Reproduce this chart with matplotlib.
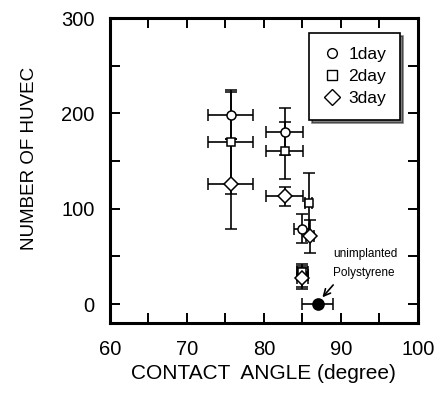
import matplotlib
matplotlib.use("Agg")
import matplotlib.pyplot as plt
from matplotlib.lines import Line2D
from matplotlib.ticker import MultipleLocator

plt.rcParams['font.family'] = ['Liberation Sans', 'DejaVu Sans']

# contact angle (degree) and number of HUVEC
x_1day = [75.7, 82.7, 84.9, 85.0]
y_1day = [198, 181, 79, 30]
xerr_1day = [2.9, 2.4, 1.0, 0.7]
yerr_1day = [25, 25, 15, 12]

x_2day = [75.7, 82.7, 85.8, 85.0]
y_2day = [170, 161, 106, 34]
xerr_2day = [2.9, 2.4, 0.5, 0.7]
yerr_2day = [55, 30, 32, 6]

x_3day = [75.7, 82.7, 86.0, 85.0]
y_3day = [126, 113, 71, 27]
xerr_3day = [2.9, 2.4, 0.5, 0.7]
yerr_3day = [47, 10, 17, 11]

# unimplanted polystyrene
x_ps = [87.0]
y_ps = [0]
xerr_ps = [2.0]

fig = plt.figure(figsize=(4.38, 3.94), dpi=100)
ax = fig.add_axes([0.251, 0.180, 0.703, 0.774])

ekw = dict(ecolor='black', elinewidth=1.2, capsize=4, capthick=1.2,
           linestyle='none', markeredgecolor='black', markeredgewidth=1.1,
           markerfacecolor='white')
ax.errorbar(x_1day, y_1day, xerr=xerr_1day, yerr=yerr_1day, marker='o', markersize=6.5, **ekw)
ax.errorbar(x_2day, y_2day, xerr=xerr_2day, yerr=yerr_2day, marker='s', markersize=6, **ekw)
ax.errorbar(x_3day, y_3day, xerr=xerr_3day, yerr=yerr_3day, marker='D', markersize=7, **ekw)
ekw['markerfacecolor'] = 'black'
ax.errorbar(x_ps, y_ps, xerr=xerr_ps, marker='o', markersize=8, **ekw)

ax.text(89.0, 52, 'unimplanted', fontsize=8.5, ha='left', va='center')
ax.text(89.0, 33, 'Polystyrene', fontsize=8.5, ha='left', va='center')
ax.annotate('', xy=(87.6, 7), xytext=(89.0, 20),
            arrowprops=dict(arrowstyle='->', color='black', lw=1.2,
                            shrinkA=0, shrinkB=0, mutation_scale=12))

ax.set_xlim(60, 100)
ax.set_ylim(-20, 300)
ax.xaxis.set_major_locator(MultipleLocator(10))
ax.xaxis.set_minor_locator(MultipleLocator(5))
ax.yaxis.set_major_locator(MultipleLocator(100))
ax.yaxis.set_minor_locator(MultipleLocator(50))
ax.tick_params(which='both', direction='in', top=True, right=True,
               width=1.4, length=7)
ax.tick_params(axis='x', which='major', labelsize=14.5, pad=12)
ax.tick_params(axis='y', which='major', labelsize=14.5, pad=11)
for s in ax.spines.values():
    s.set_linewidth(2.2)

ax.set_xlabel('CONTACT  ANGLE (degree)', fontsize=15, labelpad=4)
ax.set_ylabel('NUMBER OF HUVEC', fontsize=13.5, labelpad=17)
ax.yaxis.label.set_y(0.54)

handles = [
    Line2D([], [], marker='o', color='black', linestyle='none', markerfacecolor='white', markersize=7),
    Line2D([], [], marker='s', color='black', linestyle='none', markerfacecolor='white', markersize=7),
    Line2D([], [], marker='D', color='black', linestyle='none', markerfacecolor='white', markersize=8),
]
leg = ax.legend(handles, ['1day', '2day', '3day'], loc='upper right',
                bbox_to_anchor=(0.942, 0.951), borderaxespad=0,
                fontsize=12.5, frameon=True,
                fancybox=False, shadow={'color': 'black'}, handletextpad=0.45,
                handlelength=1.0, borderpad=0.8, labelspacing=0.4)
leg.get_frame().set_edgecolor('black')
leg.get_frame().set_linewidth(1.2)

fig.savefig('out.png', dpi=100)
